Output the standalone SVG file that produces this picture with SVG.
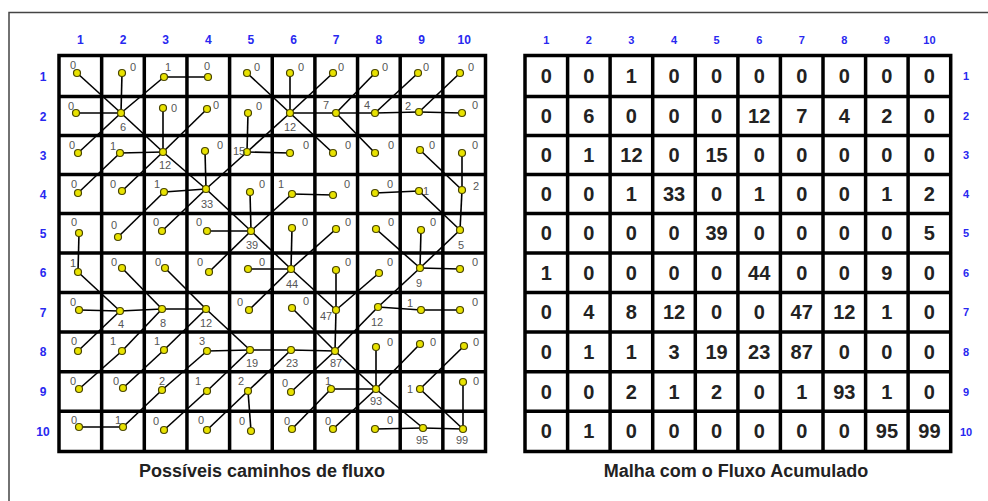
<svg xmlns="http://www.w3.org/2000/svg" width="988" height="501" viewBox="0 0 988 501">
<style>
.frame{stroke:#444;stroke-width:1.5;fill:none}
.grid{stroke:#000;stroke-width:3.5;fill:none;stroke-linecap:square}
#connectors line{stroke:#000;stroke-width:1.6}
.dot{fill:#e8e200;stroke:#4a4600;stroke-width:1.2}
.lbl{font-family:"Liberation Sans",Arial,sans-serif;font-size:11px;fill:#555;text-anchor:middle}
.val{font-family:"Liberation Sans",Arial,sans-serif;font-size:20px;font-weight:bold;fill:#222;text-anchor:middle}
.hdr{font-family:"Liberation Sans",Arial,sans-serif;font-size:12px;font-weight:bold;fill:#2828f0;text-anchor:middle}
.hdr2{font-family:"Liberation Sans",Arial,sans-serif;font-size:11px;font-weight:bold;fill:#2828f0;text-anchor:middle}
.title{font-family:"Liberation Sans",Arial,sans-serif;font-size:18px;font-weight:bold;fill:#222;text-anchor:middle}
</style>
<rect width="988" height="501" fill="#fff"/>
<path class="frame" d="M9,501 V12.5 H988"/>

<g id="left-grid">
<path class="grid" d="M59,55.5 V451.5 M101.65,55.5 V451.5 M144.3,55.5 V451.5 M186.95,55.5 V451.5 M229.6,55.5 V451.5 M272.25,55.5 V451.5 M314.9,55.5 V451.5 M357.55,55.5 V451.5 M400.2,55.5 V451.5 M442.85,55.5 V451.5 M485.5,55.5 V451.5 M59,55.5 H485.5 M59,96.5 H485.5 M59,135.5 H485.5 M59,174.5 H485.5 M59,213.5 H485.5 M59,253 H485.5 M59,292.5 H485.5 M59,332 H485.5 M59,371.8 H485.5 M59,411.3 H485.5 M59,451.5 H485.5"/>
</g>
<g id="right-grid">
<path class="grid" d="M525,55.5 V451.5 M567.6,55.5 V451.5 M610.1,55.5 V451.5 M652.7,55.5 V451.5 M695.3,55.5 V451.5 M737.9,55.5 V451.5 M780.4,55.5 V451.5 M823,55.5 V451.5 M865.6,55.5 V451.5 M908.1,55.5 V451.5 M950.7,55.5 V451.5 M525,55.5 H950.7 M525,96.5 H950.7 M525,135.5 H950.7 M525,174.5 H950.7 M525,213.5 H950.7 M525,253 H950.7 M525,292.5 H950.7 M525,332 H950.7 M525,371.8 H950.7 M525,411.3 H950.7 M525,451.5 H950.7"/>
</g>

<g id="headers">
<text class="hdr" x="80.3" y="44">1</text><text class="hdr" x="123" y="44">2</text><text class="hdr" x="165.6" y="44">3</text><text class="hdr" x="208.3" y="44">4</text><text class="hdr" x="250.9" y="44">5</text><text class="hdr" x="293.6" y="44">6</text><text class="hdr" x="336.2" y="44">7</text><text class="hdr" x="378.9" y="44">8</text><text class="hdr" x="421.5" y="44">9</text><text class="hdr" x="464.2" y="44">10</text>
<text class="hdr" x="43" y="80.5">1</text><text class="hdr" x="43" y="120.5">2</text><text class="hdr" x="43" y="159.5">3</text><text class="hdr" x="43" y="198.5">4</text><text class="hdr" x="43" y="237.5">5</text><text class="hdr" x="43" y="277">6</text><text class="hdr" x="43" y="316.5">7</text><text class="hdr" x="43" y="356">8</text><text class="hdr" x="43" y="396">9</text><text class="hdr" x="43" y="436">10</text>
<text class="hdr2" x="546.3" y="44">1</text><text class="hdr2" x="588.9" y="44">2</text><text class="hdr2" x="631.4" y="44">3</text><text class="hdr2" x="674" y="44">4</text><text class="hdr2" x="716.6" y="44">5</text><text class="hdr2" x="759.2" y="44">6</text><text class="hdr2" x="801.7" y="44">7</text><text class="hdr2" x="844.3" y="44">8</text><text class="hdr2" x="886.9" y="44">9</text><text class="hdr2" x="929.4" y="44">10</text>
<text class="hdr2" x="966" y="80">1</text><text class="hdr2" x="966" y="120">2</text><text class="hdr2" x="966" y="159">3</text><text class="hdr2" x="966" y="198">4</text><text class="hdr2" x="966" y="237">5</text><text class="hdr2" x="966" y="277">6</text><text class="hdr2" x="966" y="316">7</text><text class="hdr2" x="966" y="356">8</text><text class="hdr2" x="966" y="395.5">9</text><text class="hdr2" x="966" y="435.5">10</text>
</g>

<g id="connectors">
<line x1="77" y1="73" x2="121" y2="113"/><line x1="122" y1="73" x2="121" y2="113"/><line x1="164" y1="77" x2="121" y2="113"/><line x1="208" y1="77" x2="164" y2="77"/><line x1="247" y1="73" x2="290" y2="113"/><line x1="290" y1="73" x2="290" y2="113"/><line x1="333" y1="73" x2="290" y2="113"/><line x1="375" y1="73" x2="336" y2="113"/><line x1="418" y1="73" x2="375" y2="113"/><line x1="460" y1="73" x2="419" y2="112"/>
<line x1="76" y1="113" x2="121" y2="113"/><line x1="121" y1="113" x2="163" y2="152"/><line x1="163" y1="108" x2="163" y2="152"/><line x1="207" y1="109" x2="163" y2="152"/><line x1="248" y1="113" x2="247" y2="152"/><line x1="290" y1="113" x2="247" y2="152"/><line x1="336" y1="113" x2="290" y2="113"/><line x1="375" y1="113" x2="336" y2="113"/><line x1="419" y1="112" x2="375" y2="113"/><line x1="462" y1="113" x2="419" y2="112"/>
<line x1="78" y1="153" x2="121" y2="113"/><line x1="120" y1="153" x2="163" y2="152"/><line x1="163" y1="152" x2="206" y2="189"/><line x1="205" y1="151" x2="206" y2="189"/><line x1="247" y1="152" x2="206" y2="189"/><line x1="290" y1="153" x2="247" y2="152"/><line x1="333" y1="153" x2="290" y2="113"/><line x1="375" y1="153" x2="336" y2="113"/><line x1="420" y1="150" x2="462" y2="190"/><line x1="462" y1="153" x2="462" y2="190"/>
<line x1="78" y1="193" x2="120" y2="153"/><line x1="122" y1="191" x2="163" y2="152"/><line x1="164" y1="192" x2="206" y2="189"/><line x1="206" y1="189" x2="251" y2="231"/><line x1="250" y1="192" x2="251" y2="231"/><line x1="292" y1="194" x2="251" y2="231"/><line x1="333" y1="195" x2="292" y2="194"/><line x1="375" y1="193" x2="419" y2="191"/><line x1="419" y1="191" x2="460" y2="230"/><line x1="462" y1="190" x2="460" y2="230"/>
<line x1="79" y1="233" x2="78" y2="272"/><line x1="118" y1="237" x2="164" y2="192"/><line x1="162" y1="231" x2="206" y2="189"/><line x1="207" y1="231" x2="251" y2="231"/><line x1="251" y1="231" x2="291" y2="269"/><line x1="292" y1="228" x2="291" y2="269"/><line x1="336" y1="229" x2="291" y2="269"/><line x1="376" y1="229" x2="420" y2="268"/><line x1="421" y1="230" x2="420" y2="268"/><line x1="460" y1="230" x2="420" y2="268"/>
<line x1="78" y1="272" x2="120" y2="311"/><line x1="122" y1="268" x2="162" y2="309"/><line x1="165" y1="268" x2="206" y2="309"/><line x1="209" y1="272" x2="251" y2="231"/><line x1="248" y1="269" x2="291" y2="269"/><line x1="291" y1="269" x2="336" y2="310"/><line x1="336" y1="270" x2="336" y2="310"/><line x1="379" y1="273" x2="336" y2="310"/><line x1="420" y1="268" x2="378" y2="307"/><line x1="460" y1="269" x2="420" y2="268"/>
<line x1="79" y1="310" x2="120" y2="311"/><line x1="120" y1="311" x2="162" y2="309"/><line x1="162" y1="309" x2="206" y2="309"/><line x1="206" y1="309" x2="250" y2="350"/><line x1="249" y1="310" x2="291" y2="269"/><line x1="292" y1="308" x2="335" y2="351"/><line x1="336" y1="310" x2="335" y2="351"/><line x1="378" y1="307" x2="335" y2="351"/><line x1="421" y1="310" x2="378" y2="307"/><line x1="460" y1="310" x2="421" y2="310"/>
<line x1="78" y1="351" x2="120" y2="311"/><line x1="122" y1="351" x2="162" y2="309"/><line x1="164" y1="350" x2="206" y2="309"/><line x1="207" y1="351" x2="250" y2="350"/><line x1="250" y1="350" x2="291" y2="350"/><line x1="291" y1="350" x2="335" y2="351"/><line x1="335" y1="351" x2="376" y2="389"/><line x1="376" y1="347" x2="376" y2="389"/><line x1="420" y1="344" x2="376" y2="389"/><line x1="464" y1="346" x2="420" y2="389"/>
<line x1="79" y1="389" x2="122" y2="351"/><line x1="123" y1="388" x2="164" y2="350"/><line x1="162" y1="390" x2="207" y2="351"/><line x1="207" y1="391" x2="250" y2="350"/><line x1="248" y1="391" x2="291" y2="350"/><line x1="291" y1="392" x2="335" y2="351"/><line x1="331" y1="389" x2="376" y2="389"/><line x1="376" y1="389" x2="423" y2="428"/><line x1="420" y1="389" x2="463" y2="429"/><line x1="463" y1="382" x2="463" y2="429"/>
<line x1="79" y1="427" x2="123" y2="427"/><line x1="123" y1="427" x2="162" y2="390"/><line x1="164" y1="430" x2="207" y2="391"/><line x1="207" y1="430" x2="248" y2="391"/><line x1="251" y1="431" x2="248" y2="391"/><line x1="292" y1="429" x2="331" y2="389"/><line x1="333" y1="429" x2="376" y2="389"/><line x1="375" y1="429" x2="423" y2="428"/><line x1="423" y1="428" x2="463" y2="429"/>
</g>

<g id="flow-cells">
<g id="f1-1"><circle class="dot" cx="77" cy="73" r="3.5"/><text class="lbl" x="73" y="69">0</text></g>
<g id="f1-2"><circle class="dot" cx="122" cy="73" r="3.5"/><text class="lbl" x="133" y="71">0</text></g>
<g id="f1-3"><circle class="dot" cx="164" cy="77" r="3.5"/><text class="lbl" x="168" y="71">1</text></g>
<g id="f1-4"><circle class="dot" cx="208" cy="77" r="3.5"/><text class="lbl" x="207" y="70">0</text></g>
<g id="f1-5"><circle class="dot" cx="247" cy="73" r="3.5"/><text class="lbl" x="257" y="71">0</text></g>
<g id="f1-6"><circle class="dot" cx="290" cy="73" r="3.5"/><text class="lbl" x="301" y="71">0</text></g>
<g id="f1-7"><circle class="dot" cx="333" cy="73" r="3.5"/><text class="lbl" x="341" y="71">0</text></g>
<g id="f1-8"><circle class="dot" cx="375" cy="73" r="3.5"/><text class="lbl" x="385" y="71">0</text></g>
<g id="f1-9"><circle class="dot" cx="418" cy="73" r="3.5"/><text class="lbl" x="426" y="71">0</text></g>
<g id="f1-10"><circle class="dot" cx="460" cy="73" r="3.5"/><text class="lbl" x="471" y="71">0</text></g>
<g id="f2-1"><circle class="dot" cx="76" cy="113" r="3.5"/><text class="lbl" x="71" y="110">0</text></g>
<g id="f2-2"><circle class="dot" cx="121" cy="113" r="3.5"/><text class="lbl" x="123" y="131">6</text></g>
<g id="f2-3"><circle class="dot" cx="163" cy="108" r="3.5"/><text class="lbl" x="174" y="112">0</text></g>
<g id="f2-4"><circle class="dot" cx="207" cy="109" r="3.5"/><text class="lbl" x="216" y="109">0</text></g>
<g id="f2-5"><circle class="dot" cx="248" cy="113" r="3.5"/><text class="lbl" x="259" y="110">0</text></g>
<g id="f2-6"><circle class="dot" cx="290" cy="113" r="3.5"/><text class="lbl" x="290" y="131">12</text></g>
<g id="f2-7"><circle class="dot" cx="336" cy="113" r="3.5"/><text class="lbl" x="326" y="109">7</text></g>
<g id="f2-8"><circle class="dot" cx="375" cy="113" r="3.5"/><text class="lbl" x="367" y="109">4</text></g>
<g id="f2-9"><circle class="dot" cx="419" cy="112" r="3.5"/><text class="lbl" x="408" y="110">2</text></g>
<g id="f2-10"><circle class="dot" cx="462" cy="113" r="3.5"/><text class="lbl" x="475" y="109">0</text></g>
<g id="f3-1"><circle class="dot" cx="78" cy="153" r="3.5"/><text class="lbl" x="72" y="149">0</text></g>
<g id="f3-2"><circle class="dot" cx="120" cy="153" r="3.5"/><text class="lbl" x="113" y="150">1</text></g>
<g id="f3-3"><circle class="dot" cx="163" cy="152" r="3.5"/><text class="lbl" x="165" y="169">12</text></g>
<g id="f3-4"><circle class="dot" cx="205" cy="151" r="3.5"/><text class="lbl" x="220" y="149">0</text></g>
<g id="f3-5"><circle class="dot" cx="247" cy="152" r="3.5"/><text class="lbl" x="239" y="155">15</text></g>
<g id="f3-6"><circle class="dot" cx="290" cy="153" r="3.5"/><text class="lbl" x="306" y="149">0</text></g>
<g id="f3-7"><circle class="dot" cx="333" cy="153" r="3.5"/><text class="lbl" x="348" y="149">0</text></g>
<g id="f3-8"><circle class="dot" cx="375" cy="153" r="3.5"/><text class="lbl" x="391" y="149">0</text></g>
<g id="f3-9"><circle class="dot" cx="420" cy="150" r="3.5"/><text class="lbl" x="432" y="149">0</text></g>
<g id="f3-10"><circle class="dot" cx="462" cy="153" r="3.5"/><text class="lbl" x="475" y="149">0</text></g>
<g id="f4-1"><circle class="dot" cx="78" cy="193" r="3.5"/><text class="lbl" x="74" y="188">0</text></g>
<g id="f4-2"><circle class="dot" cx="122" cy="191" r="3.5"/><text class="lbl" x="113" y="188">0</text></g>
<g id="f4-3"><circle class="dot" cx="164" cy="192" r="3.5"/><text class="lbl" x="157" y="188">1</text></g>
<g id="f4-4"><circle class="dot" cx="206" cy="189" r="3.5"/><text class="lbl" x="207" y="208">33</text></g>
<g id="f4-5"><circle class="dot" cx="250" cy="192" r="3.5"/><text class="lbl" x="262" y="188">0</text></g>
<g id="f4-6"><circle class="dot" cx="292" cy="194" r="3.5"/><text class="lbl" x="281" y="188">1</text></g>
<g id="f4-7"><circle class="dot" cx="333" cy="195" r="3.5"/><text class="lbl" x="347" y="188">0</text></g>
<g id="f4-8"><circle class="dot" cx="375" cy="193" r="3.5"/><text class="lbl" x="390" y="188">0</text></g>
<g id="f4-9"><circle class="dot" cx="419" cy="191" r="3.5"/><text class="lbl" x="426" y="195">1</text></g>
<g id="f4-10"><circle class="dot" cx="462" cy="190" r="3.5"/><text class="lbl" x="476" y="190">2</text></g>
<g id="f5-1"><circle class="dot" cx="79" cy="233" r="3.5"/><text class="lbl" x="74" y="226">0</text></g>
<g id="f5-2"><circle class="dot" cx="118" cy="237" r="3.5"/><text class="lbl" x="114" y="229">0</text></g>
<g id="f5-3"><circle class="dot" cx="162" cy="231" r="3.5"/><text class="lbl" x="156" y="226">0</text></g>
<g id="f5-4"><circle class="dot" cx="207" cy="231" r="3.5"/><text class="lbl" x="199" y="226">0</text></g>
<g id="f5-5"><circle class="dot" cx="251" cy="231" r="3.5"/><text class="lbl" x="252" y="249">39</text></g>
<g id="f5-6"><circle class="dot" cx="292" cy="228" r="3.5"/><text class="lbl" x="305" y="226">0</text></g>
<g id="f5-7"><circle class="dot" cx="336" cy="229" r="3.5"/><text class="lbl" x="348" y="226">0</text></g>
<g id="f5-8"><circle class="dot" cx="376" cy="229" r="3.5"/><text class="lbl" x="391" y="226">0</text></g>
<g id="f5-9"><circle class="dot" cx="421" cy="230" r="3.5"/><text class="lbl" x="433" y="226">0</text></g>
<g id="f5-10"><circle class="dot" cx="460" cy="230" r="3.5"/><text class="lbl" x="461" y="249">5</text></g>
<g id="f6-1"><circle class="dot" cx="78" cy="272" r="3.5"/><text class="lbl" x="73" y="267">1</text></g>
<g id="f6-2"><circle class="dot" cx="122" cy="268" r="3.5"/><text class="lbl" x="114" y="266">0</text></g>
<g id="f6-3"><circle class="dot" cx="165" cy="268" r="3.5"/><text class="lbl" x="158" y="266">0</text></g>
<g id="f6-4"><circle class="dot" cx="209" cy="272" r="3.5"/><text class="lbl" x="200" y="266">0</text></g>
<g id="f6-5"><circle class="dot" cx="248" cy="269" r="3.5"/><text class="lbl" x="262" y="266">0</text></g>
<g id="f6-6"><circle class="dot" cx="291" cy="269" r="3.5"/><text class="lbl" x="292" y="288">44</text></g>
<g id="f6-7"><circle class="dot" cx="336" cy="270" r="3.5"/><text class="lbl" x="348" y="266">0</text></g>
<g id="f6-8"><circle class="dot" cx="379" cy="273" r="3.5"/><text class="lbl" x="390" y="266">0</text></g>
<g id="f6-9"><circle class="dot" cx="420" cy="268" r="3.5"/><text class="lbl" x="419" y="287">9</text></g>
<g id="f6-10"><circle class="dot" cx="460" cy="269" r="3.5"/><text class="lbl" x="475" y="266">0</text></g>
<g id="f7-1"><circle class="dot" cx="79" cy="310" r="3.5"/><text class="lbl" x="73" y="306">0</text></g>
<g id="f7-2"><circle class="dot" cx="120" cy="311" r="3.5"/><text class="lbl" x="121" y="328">4</text></g>
<g id="f7-3"><circle class="dot" cx="162" cy="309" r="3.5"/><text class="lbl" x="163" y="327">8</text></g>
<g id="f7-4"><circle class="dot" cx="206" cy="309" r="3.5"/><text class="lbl" x="206" y="327">12</text></g>
<g id="f7-5"><circle class="dot" cx="249" cy="310" r="3.5"/><text class="lbl" x="240" y="306">0</text></g>
<g id="f7-6"><circle class="dot" cx="292" cy="308" r="3.5"/><text class="lbl" x="306" y="305">0</text></g>
<g id="f7-7"><circle class="dot" cx="336" cy="310" r="3.5"/><text class="lbl" x="326" y="320">47</text></g>
<g id="f7-8"><circle class="dot" cx="378" cy="307" r="3.5"/><text class="lbl" x="377" y="326">12</text></g>
<g id="f7-9"><circle class="dot" cx="421" cy="310" r="3.5"/><text class="lbl" x="410" y="307">1</text></g>
<g id="f7-10"><circle class="dot" cx="460" cy="310" r="3.5"/><text class="lbl" x="475" y="306">0</text></g>
<g id="f8-1"><circle class="dot" cx="78" cy="351" r="3.5"/><text class="lbl" x="74" y="345">0</text></g>
<g id="f8-2"><circle class="dot" cx="122" cy="351" r="3.5"/><text class="lbl" x="113" y="345">1</text></g>
<g id="f8-3"><circle class="dot" cx="164" cy="350" r="3.5"/><text class="lbl" x="157" y="345">1</text></g>
<g id="f8-4"><circle class="dot" cx="207" cy="351" r="3.5"/><text class="lbl" x="202" y="345">3</text></g>
<g id="f8-5"><circle class="dot" cx="250" cy="350" r="3.5"/><text class="lbl" x="252" y="367">19</text></g>
<g id="f8-6"><circle class="dot" cx="291" cy="350" r="3.5"/><text class="lbl" x="292" y="367">23</text></g>
<g id="f8-7"><circle class="dot" cx="335" cy="351" r="3.5"/><text class="lbl" x="336" y="367">87</text></g>
<g id="f8-8"><circle class="dot" cx="376" cy="347" r="3.5"/><text class="lbl" x="390" y="346">0</text></g>
<g id="f8-9"><circle class="dot" cx="420" cy="344" r="3.5"/><text class="lbl" x="433" y="346">0</text></g>
<g id="f8-10"><circle class="dot" cx="464" cy="346" r="3.5"/><text class="lbl" x="476" y="346">0</text></g>
<g id="f9-1"><circle class="dot" cx="79" cy="389" r="3.5"/><text class="lbl" x="73" y="385">0</text></g>
<g id="f9-2"><circle class="dot" cx="123" cy="388" r="3.5"/><text class="lbl" x="116" y="385">0</text></g>
<g id="f9-3"><circle class="dot" cx="162" cy="390" r="3.5"/><text class="lbl" x="162" y="385">2</text></g>
<g id="f9-4"><circle class="dot" cx="207" cy="391" r="3.5"/><text class="lbl" x="198" y="385">1</text></g>
<g id="f9-5"><circle class="dot" cx="248" cy="391" r="3.5"/><text class="lbl" x="241" y="385">2</text></g>
<g id="f9-6"><circle class="dot" cx="291" cy="392" r="3.5"/><text class="lbl" x="285" y="387">0</text></g>
<g id="f9-7"><circle class="dot" cx="331" cy="389" r="3.5"/><text class="lbl" x="328" y="385">1</text></g>
<g id="f9-8"><circle class="dot" cx="376" cy="389" r="3.5"/><text class="lbl" x="376" y="405">93</text></g>
<g id="f9-9"><circle class="dot" cx="420" cy="389" r="3.5"/><text class="lbl" x="410" y="393">1</text></g>
<g id="f9-10"><circle class="dot" cx="463" cy="382" r="3.5"/><text class="lbl" x="476" y="385">0</text></g>
<g id="f10-1"><circle class="dot" cx="79" cy="427" r="3.5"/><text class="lbl" x="74" y="424">0</text></g>
<g id="f10-2"><circle class="dot" cx="123" cy="427" r="3.5"/><text class="lbl" x="118" y="424">1</text></g>
<g id="f10-3"><circle class="dot" cx="164" cy="430" r="3.5"/><text class="lbl" x="156" y="425">0</text></g>
<g id="f10-4"><circle class="dot" cx="207" cy="430" r="3.5"/><text class="lbl" x="201" y="424">0</text></g>
<g id="f10-5"><circle class="dot" cx="251" cy="431" r="3.5"/><text class="lbl" x="242" y="425">0</text></g>
<g id="f10-6"><circle class="dot" cx="292" cy="429" r="3.5"/><text class="lbl" x="287" y="425">0</text></g>
<g id="f10-7"><circle class="dot" cx="333" cy="429" r="3.5"/><text class="lbl" x="328" y="425">0</text></g>
<g id="f10-8"><circle class="dot" cx="375" cy="429" r="3.5"/><text class="lbl" x="390" y="424">0</text></g>
<g id="f10-9"><circle class="dot" cx="423" cy="428" r="3.5"/><text class="lbl" x="422" y="444">95</text></g>
<g id="f10-10"><circle class="dot" cx="463" cy="429" r="3.5"/><text class="lbl" x="462" y="444">99</text></g>
</g>

<g id="acc-cells">
<g id="a1"><text class="val" x="546.3" y="83">0</text><text class="val" x="588.9" y="83">0</text><text class="val" x="631.4" y="83">1</text><text class="val" x="674" y="83">0</text><text class="val" x="716.6" y="83">0</text><text class="val" x="759.2" y="83">0</text><text class="val" x="801.7" y="83">0</text><text class="val" x="844.3" y="83">0</text><text class="val" x="886.9" y="83">0</text><text class="val" x="929.4" y="83">0</text></g>
<g id="a2"><text class="val" x="546.3" y="123">0</text><text class="val" x="588.9" y="123">6</text><text class="val" x="631.4" y="123">0</text><text class="val" x="674" y="123">0</text><text class="val" x="716.6" y="123">0</text><text class="val" x="759.2" y="123">12</text><text class="val" x="801.7" y="123">7</text><text class="val" x="844.3" y="123">4</text><text class="val" x="886.9" y="123">2</text><text class="val" x="929.4" y="123">0</text></g>
<g id="a3"><text class="val" x="546.3" y="162">0</text><text class="val" x="588.9" y="162">1</text><text class="val" x="631.4" y="162">12</text><text class="val" x="674" y="162">0</text><text class="val" x="716.6" y="162">15</text><text class="val" x="759.2" y="162">0</text><text class="val" x="801.7" y="162">0</text><text class="val" x="844.3" y="162">0</text><text class="val" x="886.9" y="162">0</text><text class="val" x="929.4" y="162">0</text></g>
<g id="a4"><text class="val" x="546.3" y="201">0</text><text class="val" x="588.9" y="201">0</text><text class="val" x="631.4" y="201">1</text><text class="val" x="674" y="201">33</text><text class="val" x="716.6" y="201">0</text><text class="val" x="759.2" y="201">1</text><text class="val" x="801.7" y="201">0</text><text class="val" x="844.3" y="201">0</text><text class="val" x="886.9" y="201">1</text><text class="val" x="929.4" y="201">2</text></g>
<g id="a5"><text class="val" x="546.3" y="240.3">0</text><text class="val" x="588.9" y="240.3">0</text><text class="val" x="631.4" y="240.3">0</text><text class="val" x="674" y="240.3">0</text><text class="val" x="716.6" y="240.3">39</text><text class="val" x="759.2" y="240.3">0</text><text class="val" x="801.7" y="240.3">0</text><text class="val" x="844.3" y="240.3">0</text><text class="val" x="886.9" y="240.3">0</text><text class="val" x="929.4" y="240.3">5</text></g>
<g id="a6"><text class="val" x="546.3" y="279.8">1</text><text class="val" x="588.9" y="279.8">0</text><text class="val" x="631.4" y="279.8">0</text><text class="val" x="674" y="279.8">0</text><text class="val" x="716.6" y="279.8">0</text><text class="val" x="759.2" y="279.8">44</text><text class="val" x="801.7" y="279.8">0</text><text class="val" x="844.3" y="279.8">0</text><text class="val" x="886.9" y="279.8">9</text><text class="val" x="929.4" y="279.8">0</text></g>
<g id="a7"><text class="val" x="546.3" y="319.3">0</text><text class="val" x="588.9" y="319.3">4</text><text class="val" x="631.4" y="319.3">8</text><text class="val" x="674" y="319.3">12</text><text class="val" x="716.6" y="319.3">0</text><text class="val" x="759.2" y="319.3">0</text><text class="val" x="801.7" y="319.3">47</text><text class="val" x="844.3" y="319.3">12</text><text class="val" x="886.9" y="319.3">1</text><text class="val" x="929.4" y="319.3">0</text></g>
<g id="a8"><text class="val" x="546.3" y="359">0</text><text class="val" x="588.9" y="359">1</text><text class="val" x="631.4" y="359">1</text><text class="val" x="674" y="359">3</text><text class="val" x="716.6" y="359">19</text><text class="val" x="759.2" y="359">23</text><text class="val" x="801.7" y="359">87</text><text class="val" x="844.3" y="359">0</text><text class="val" x="886.9" y="359">0</text><text class="val" x="929.4" y="359">0</text></g>
<g id="a9"><text class="val" x="546.3" y="398.6">0</text><text class="val" x="588.9" y="398.6">0</text><text class="val" x="631.4" y="398.6">2</text><text class="val" x="674" y="398.6">1</text><text class="val" x="716.6" y="398.6">2</text><text class="val" x="759.2" y="398.6">0</text><text class="val" x="801.7" y="398.6">1</text><text class="val" x="844.3" y="398.6">93</text><text class="val" x="886.9" y="398.6">1</text><text class="val" x="929.4" y="398.6">0</text></g>
<g id="a10"><text class="val" x="546.3" y="438.4">0</text><text class="val" x="588.9" y="438.4">1</text><text class="val" x="631.4" y="438.4">0</text><text class="val" x="674" y="438.4">0</text><text class="val" x="716.6" y="438.4">0</text><text class="val" x="759.2" y="438.4">0</text><text class="val" x="801.7" y="438.4">0</text><text class="val" x="844.3" y="438.4">0</text><text class="val" x="886.9" y="438.4">95</text><text class="val" x="929.4" y="438.4">99</text></g>
</g>

<g id="titles">
<text class="title" x="262" y="477">Possíveis caminhos de fluxo</text>
<text class="title" x="736" y="477">Malha com o Fluxo Acumulado</text>
</g>
</svg>
